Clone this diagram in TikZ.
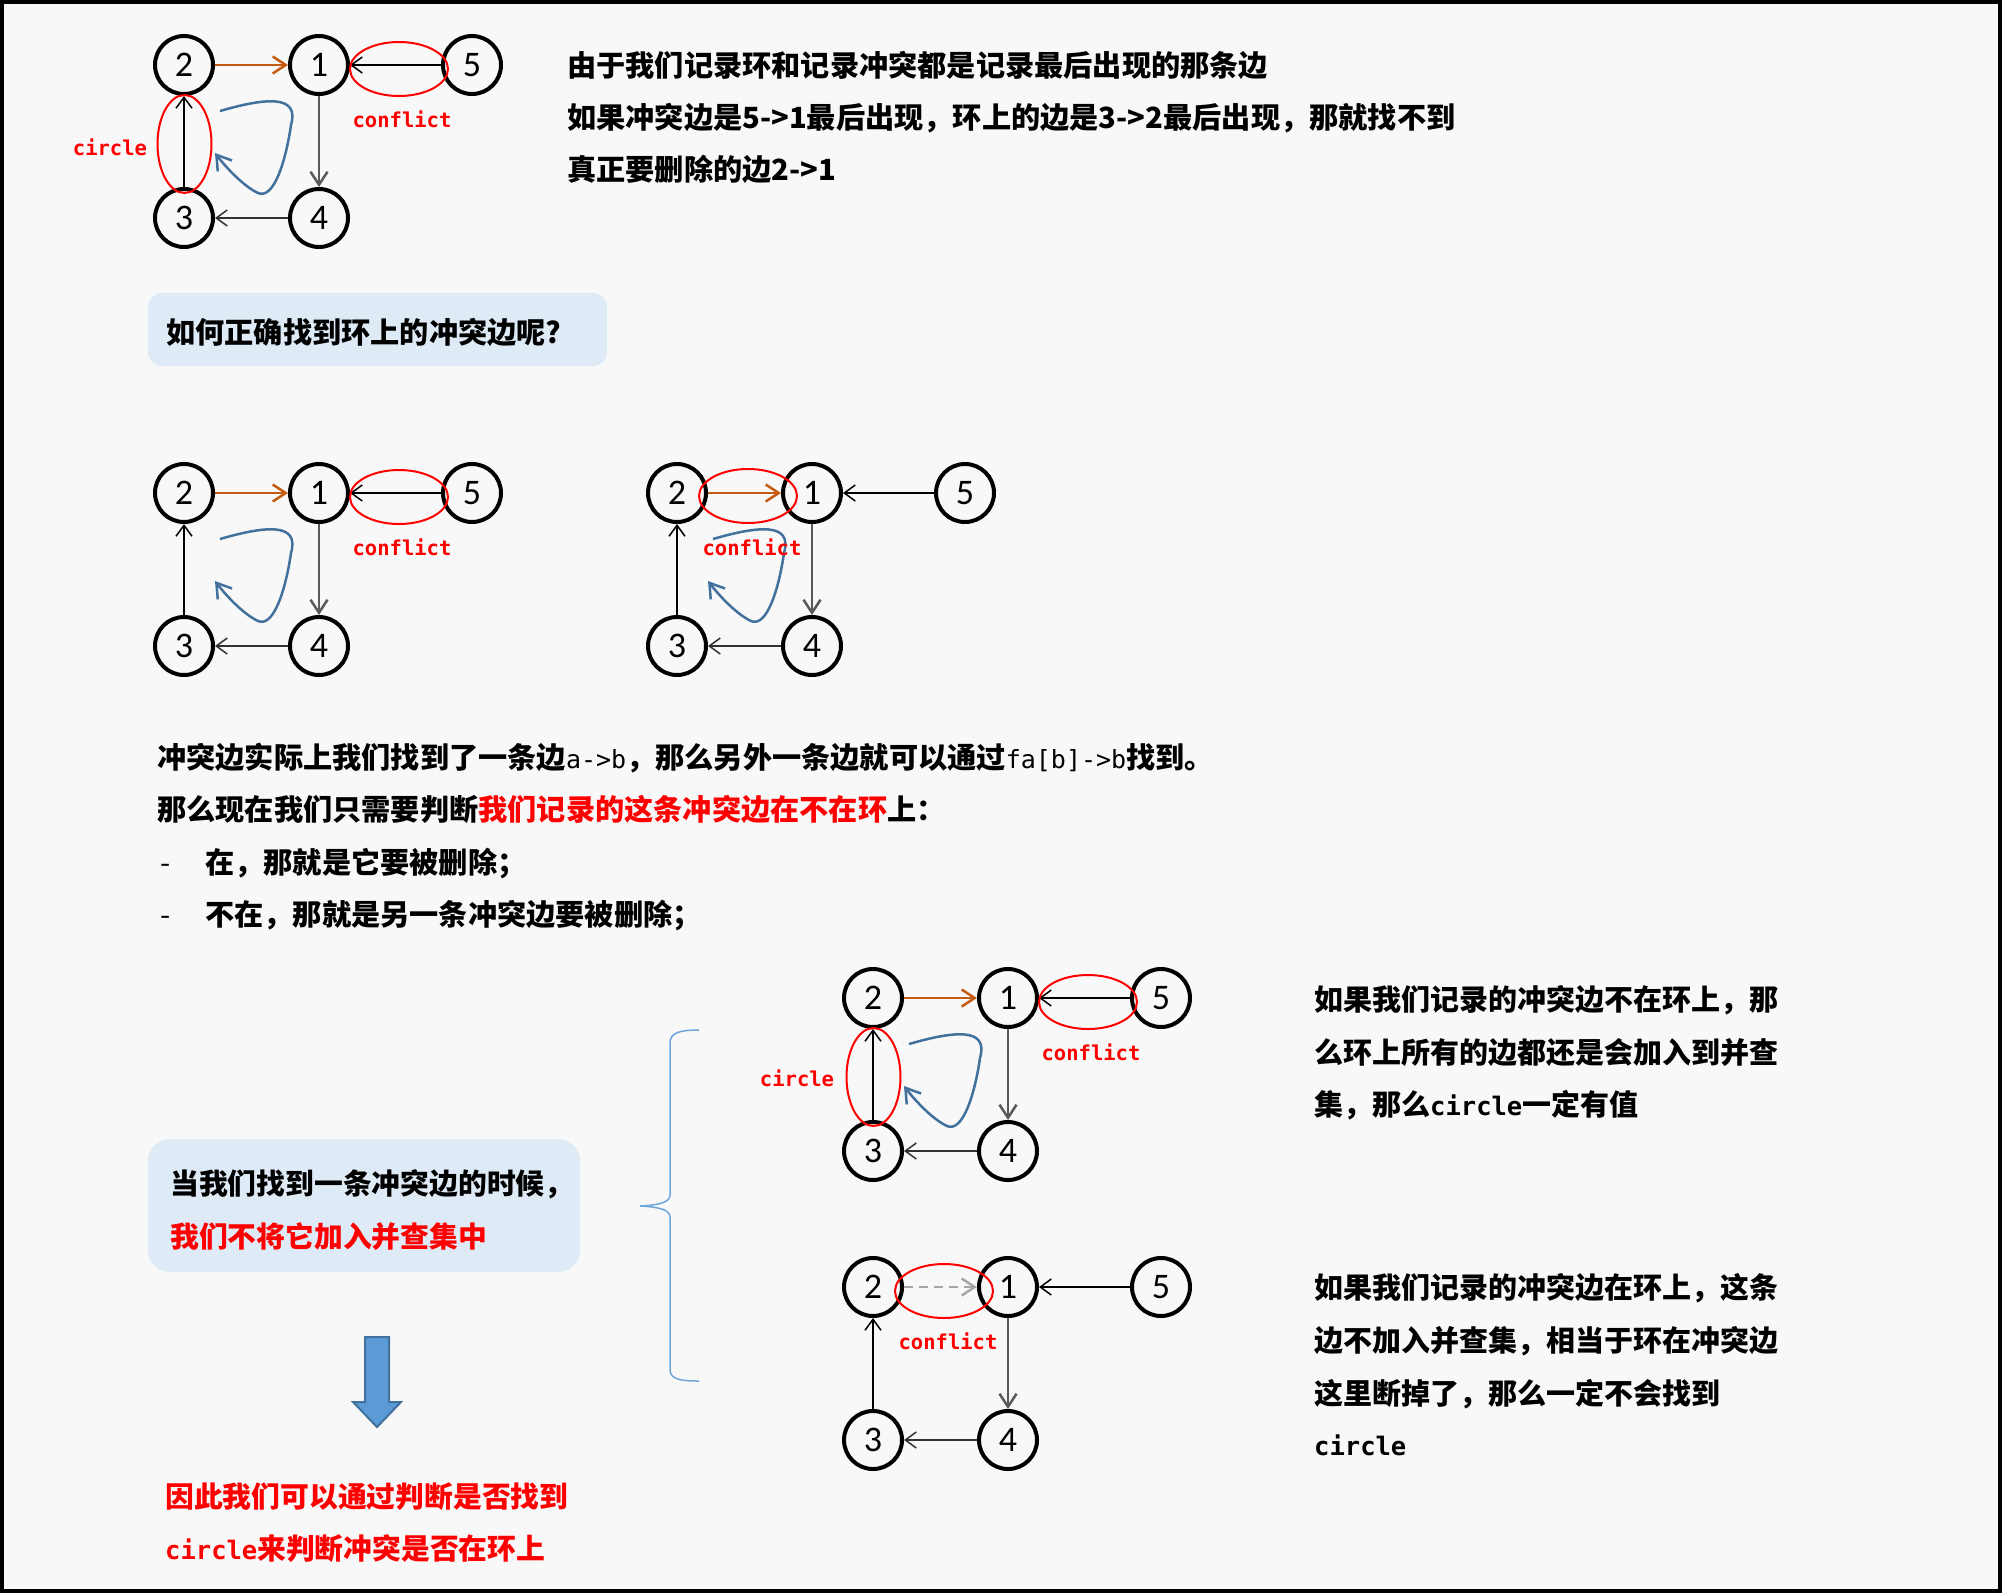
\documentclass[tikz,border=0pt]{standalone}
\usepackage{fontspec}
\usetikzlibrary{arrows.meta}
\newfontfamily\cjk{Noto Sans CJK SC}
\newfontfamily\mono{DejaVu Sans Mono}
\newfontfamily\digitfont{Carlito}
\definecolor{bgc}{RGB}{248,248,248}
\definecolor{orangec}{RGB}{197,90,17}
\definecolor{bluec}{RGB}{65,113,156}
\definecolor{boxc}{RGB}{222,235,247}
\definecolor{grayc}{RGB}{89,89,89}
\definecolor{darkc}{RGB}{50,50,50}
\definecolor{dashc}{RGB}{166,166,166}
\definecolor{arrfill}{RGB}{91,155,213}
\definecolor{arrline}{RGB}{65,113,156}
\definecolor{bracec}{RGB}{110,165,220}
\tikzset{
  gnode/.style={circle, draw=black, line width=4pt, minimum size=58pt, inner sep=0pt,
    font=\digitfont\fontsize{36}{36}\selectfont},
  barb/.style={-{Straight Barb[length=11pt,width=16pt]}},
  thinedge/.style={barb, line width=1.5pt, draw=black},
  grayedge/.style={-{Straight Barb[length=13pt,width=17pt]}, line width=2.5pt, draw=grayc},
  orangeedge/.style={-{Straight Barb[length=13pt,width=17pt]}, line width=2.5pt, draw=orangec},
  dashedge/.style={-{Straight Barb[length=13pt,width=17pt]}, line width=2.5pt, draw=dashc, dash pattern=on 9pt off 6pt},
  bluecurve/.style={-{Straight Barb[length=14pt,width=18pt]}, line width=2.5pt, draw=bluec},
  redell/.style={draw=red, line width=2pt},
  lbl/.style={text=red, inner sep=0pt, font=\mono\bfseries\fontsize{20.5}{24}\selectfont},
  txt/.style={anchor=base west, inner sep=0pt, font=\cjk\bfseries\fontsize{29.2}{35}\selectfont},
  stxt/.style={anchor=base west, inner sep=0pt, font=\cjk\bfseries\fontsize{28.8}{35}\selectfont},
  rtxt/.style={anchor=base west, inner sep=0pt, font=\cjk\bfseries\fontsize{29}{35}\selectfont},
}
\newcommand\mkgraph[3]{%
  \begin{scope}[shift={(#2,#3)}]
    \node[gnode] (#1n2) at (184,65) {2};
    \node[gnode] (#1n1) at (319,65) {1};
    \node[gnode] (#1n5) at (472,65) {5};
    \node[gnode] (#1n3) at (184,218) {3};
    \node[gnode] (#1n4) at (319,218) {4};
    \draw[thinedge] (#1n5) -- (#1n1);
    \draw[grayedge] (#1n1) -- (#1n4);
    \draw[thinedge, draw=darkc] (#1n4) -- (#1n3);
    \draw[thinedge] (#1n3) -- (#1n2);
  \end{scope}}
\newcommand\mkblue[2]{%
  \draw[bluecurve, shift={(#1,#2)}] (220,111) .. controls (265,98) and (300,94) .. (291,125)
    .. controls (286,160) and (274,200) .. (258,193)
    .. controls (245,187) and (228,170) .. (215,153);}
\begin{document}
\begin{tikzpicture}[x=1pt,y=-1pt]
\useasboundingbox (0,0) rectangle (2002,1593);
\fill[bgc] (0,0) rectangle (2002,1593);
\draw[line width=4pt, black] (2,2) rectangle (2000,1591);

% ---------- graph 1 ----------
\mkgraph{a}{0}{0}
\draw[orangeedge] (an2) -- (an1);
\draw[redell] (184.5,144) ellipse [x radius=27, y radius=49];
\draw[redell] (399,69) ellipse [x radius=49, y radius=27];
\node[lbl] (acircle) at (110,147) {circle};
\node[lbl] (aconf) at (402,119) {conflict};
\mkblue{0}{0}

% ---------- top text ----------
\node[txt] (t1) at (567,76) {由于我们记录环和记录冲突都是记录最后出现的那条边};
\node[txt] (t2) at (567,128) {如果冲突边是5->1最后出现，环上的边是3->2最后出现，那就找不到};
\node[txt] (t3) at (567,180) {真正要删除的边2->1};

% ---------- box 1 ----------
\fill[boxc, rounded corners=14pt] (148,293) rectangle (607,366);
\node[txt] (q1) at (166,343) {如何正确找到环上的冲突边呢?};

% ---------- graph 2 ----------
\mkgraph{b}{0}{428}
\draw[orangeedge] (bn2) -- (bn1);
\draw[redell] (399,497) ellipse [x radius=49, y radius=27];
\node[lbl] (bconf) at (402,547) {conflict};
\mkblue{0}{428}

% ---------- graph 3 ----------
\mkgraph{c}{493}{428}
\draw[orangeedge] (cn2) -- (cn1);
\draw[redell] (748,496) ellipse [x radius=49, y radius=27];
\mkblue{493}{428}
\node[lbl] (cconf) at (752,547) {conflict};

% ---------- middle text ----------
\node[txt] (m1) at (157,768) {冲突边实际上我们找到了一条边{\mono\mdseries\fontsize{25}{30}\selectfont a->b}，那么另外一条边就可以通过{\mono\mdseries\fontsize{25}{30}\selectfont fa[b]->b}找到。};
\node[txt] (m2) at (157,820) {那么现在我们只需要判断\textcolor{red}{我们记录的这条冲突边在不在环}上：};
\node[txt, font=\cjk\fontsize{29.2}{35}\selectfont] (d1) at (160,873) {-};
\node[txt] (m3) at (205,873) {在，那就是它要被删除；};
\node[txt, font=\cjk\fontsize{29.2}{35}\selectfont] (d2) at (160,925) {-};
\node[txt] (m4) at (205,925) {不在，那就是另一条冲突边要被删除；};

% ---------- box 2 ----------
\fill[boxc, rounded corners=22pt] (148,1139) rectangle (580,1272);
\node[stxt] (b1) at (170,1194) {当我们找到一条冲突边的时候，};
\node[stxt, text=red] (b2) at (170,1247) {我们不将它加入并查集中};

% ---------- down arrow ----------
\draw[fill=arrfill, draw=arrline, line width=2pt, line join=miter]
  (365,1337) -- (389,1337) -- (389,1402) -- (401,1402) -- (377,1427) -- (353,1402) -- (365,1402) -- cycle;

% ---------- bottom red text ----------
\node[stxt, text=red] (r1) at (165,1507) {因此我们可以通过判断是否找到};
\node[stxt, text=red] (r2) at (165,1559) {{\mono\bfseries\fontsize{25.5}{30}\selectfont circle}来判断冲突是否在环上};

% ---------- brace ----------
\draw[bracec, line width=1.5pt] (699,1030) .. controls (679,1030) and (670,1033) .. (670,1043)
  -- (670,1195) .. controls (670,1202) and (660,1205) .. (640,1206)
  .. controls (660,1207) and (670,1210) .. (670,1217)
  -- (670,1369) .. controls (670,1379) and (679,1381) .. (699,1381);

% ---------- graph 4 ----------
\mkgraph{d}{689}{933}
\draw[orangeedge] (dn2) -- (dn1);
\draw[redell] (873.5,1077) ellipse [x radius=27, y radius=49];
\draw[redell] (1088,1002) ellipse [x radius=49, y radius=27];
\node[lbl] (dcircle) at (797,1078) {circle};
\node[lbl] (dconf) at (1091,1052) {conflict};
\mkblue{689}{933}

% ---------- graph 5 ----------
\mkgraph{e}{689}{1222}
\draw[dashedge] (en2) -- (en1);
\draw[redell] (944,1291) ellipse [x radius=49, y radius=27];
\node[lbl] (econf) at (948,1341) {conflict};

% ---------- right text ----------
\node[rtxt] (p1) at (1314,1010) {如果我们记录的冲突边不在环上，那};
\node[rtxt] (p2) at (1314,1063) {么环上所有的边都还是会加入到并查};
\node[rtxt] (p3) at (1314,1115) {集，那么{\mono\bfseries\fontsize{25.5}{30}\selectfont circle}一定有值};
\node[rtxt] (s1) at (1314,1298) {如果我们记录的冲突边在环上，这条};
\node[rtxt] (s2) at (1314,1351) {边不加入并查集，相当于环在冲突边};
\node[rtxt] (s3) at (1314,1404) {这里断掉了，那么一定不会找到};
\node[rtxt, font=\mono\bfseries\fontsize{25.5}{30}\selectfont] (s4) at (1314,1455) {circle};
\end{tikzpicture}
\end{document}
